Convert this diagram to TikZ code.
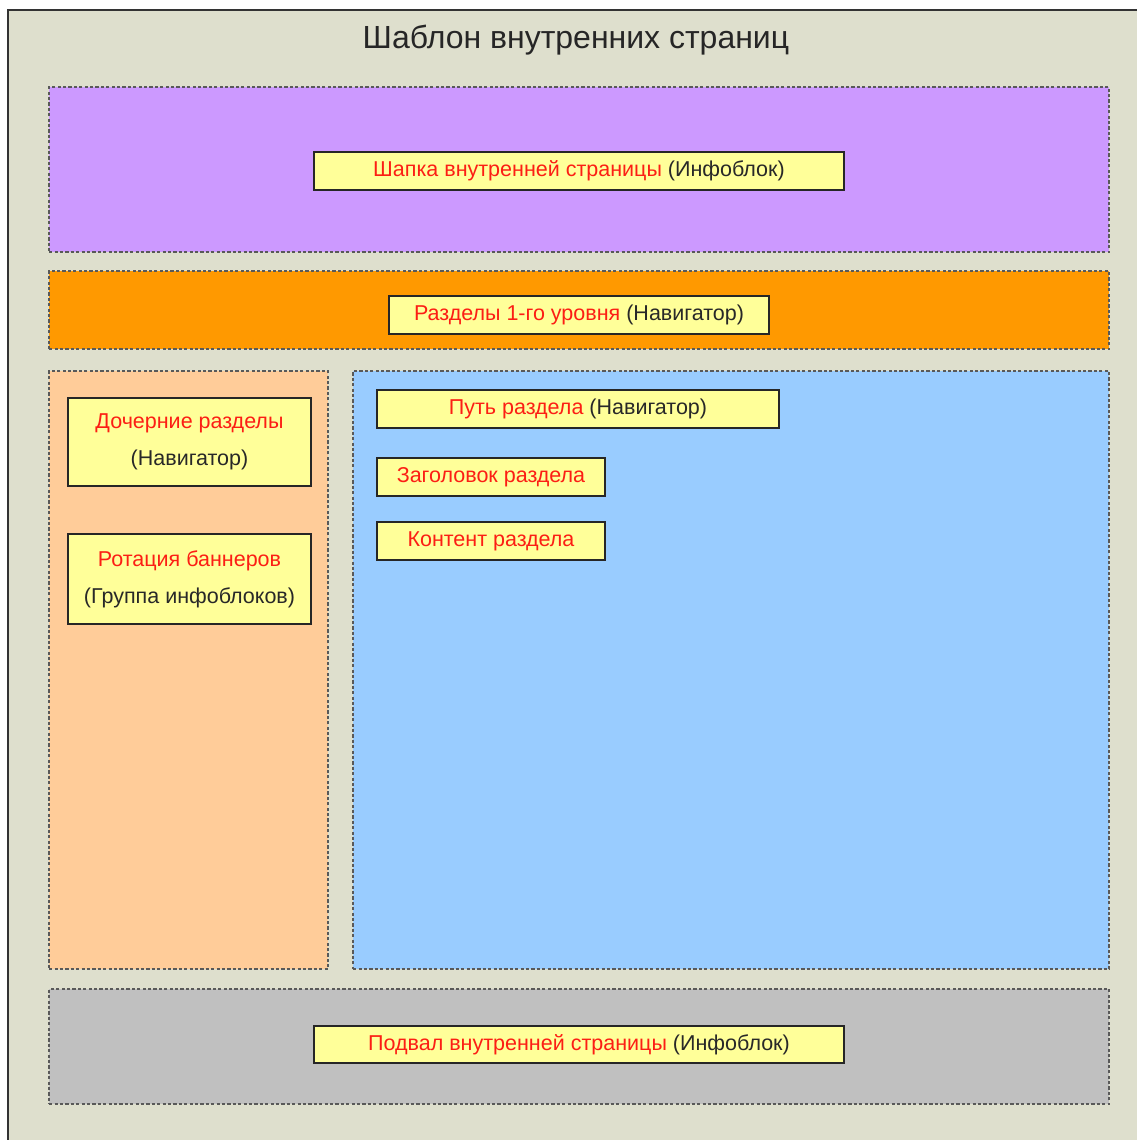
\documentclass[tikz,border=0pt]{standalone}
\usepackage{fontspec}
\setmainfont{Liberation Sans}
\definecolor{pagebg}{RGB}{222,223,205}
\definecolor{headcol}{RGB}{204,153,255}
\definecolor{navcol}{RGB}{255,153,0}
\definecolor{sidecol}{RGB}{255,204,153}
\definecolor{maincol}{RGB}{153,204,255}
\definecolor{footcol}{RGB}{192,192,192}
\definecolor{boxcol}{RGB}{255,255,153}
\definecolor{redtxt}{RGB}{252,30,20}
\definecolor{darktxt}{RGB}{40,40,40}
\tikzset{
  region/.style={draw=black!65, line width=2.2pt, dash pattern=on 3.2pt off 2.2pt,
    anchor=north west, inner sep=0pt},
  block/.style={draw=black!85, line width=2pt, fill=boxcol, anchor=north west,
    inner sep=0pt, text=darktxt, font=\fontsize{21.5}{26}\selectfont},
}
\newcommand{\rt}[1]{{\color{redtxt}#1}}
\begin{document}
\begin{tikzpicture}[x=1pt,y=-1pt]
  \useasboundingbox (0,0) rectangle (1137,1140);
  \fill[white] (0,0) rectangle (1137,1140);
  % page frame
  \begin{scope}
    \clip (0,0) rectangle (1137,1140);
    \draw[fill=pagebg, draw=black!80, line width=2.5pt] (8,10) rectangle (1160,1160);
  \end{scope}
  \node[text=black!85, font=\fontsize{32}{38}\selectfont] (title) at (576,40)
       {Шаблон внутренних страниц};

  % regions
  \node[region, fill=headcol, minimum width=1060, minimum height=165] (head) at (48,86) {};
  \node[region, fill=navcol, minimum width=1060, minimum height=78] (nav) at (48,270) {};
  \node[region, fill=sidecol, minimum width=279, minimum height=598] (side) at (48,370) {};
  \node[region, fill=maincol, minimum width=756, minimum height=598] (main) at (352,370) {};
  \node[region, fill=footcol, minimum width=1060, minimum height=115] (foot) at (48,988) {};

  % blocks
  \node[block, minimum width=530, minimum height=38] (headbox) at (313,151)
       {\rt{Шапка внутренней страницы} (Инфоблок)};
  \node[block, minimum width=380, minimum height=38] (navbox) at (388,295)
       {\rt{Разделы 1-го уровня} (Навигатор)};
  \node[block, minimum width=243, minimum height=88, align=center] (subbox) at (67,397)
       {\rt{Дочерние разделы}\\[11pt](Навигатор)};
  \node[block, minimum width=243, minimum height=90, align=center] (banbox) at (67,533)
       {\rt{Ротация баннеров}\\[11pt](Группа инфоблоков)};
  \node[block, minimum width=402, minimum height=38] (pathbox) at (376,389)
       {\rt{Путь раздела} (Навигатор)};
  \node[block, minimum width=228, minimum height=38] (titlebox) at (376,457)
       {\rt{Заголовок раздела}};
  \node[block, minimum width=228, minimum height=38] (contbox) at (376,521)
       {\rt{Контент раздела}};
  \node[block, minimum width=530, minimum height=37] (footbox) at (313,1025)
       {\rt{Подвал внутренней страницы} (Инфоблок)};
\end{tikzpicture}
\end{document}
